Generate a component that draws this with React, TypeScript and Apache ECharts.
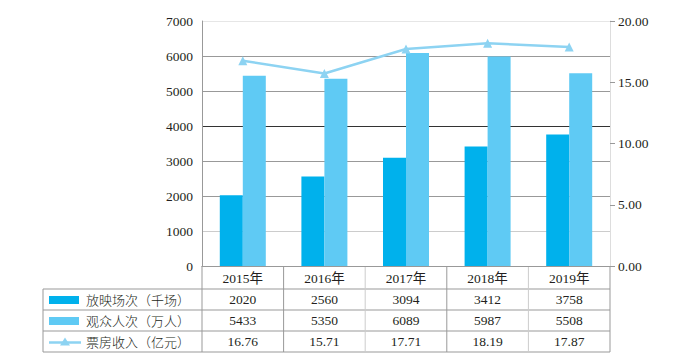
import React, { useEffect, useRef } from "react";
import * as echarts from "echarts";

const years = ["2015年", "2016年", "2017年", "2018年", "2019年"];
const screenings = [2020, 2560, 3094, 3412, 3758];
const audience = [5433, 5350, 6089, 5987, 5508];
const boxOffice = [16.76, 15.71, 17.71, 18.19, 17.87];
const seriesNames = ["放映场次（千场）", "观众人次（万人）", "票房收入（亿元）"];
const leftTicks = { min: 0, max: 7000, interval: 1000 };
const rightTicks = { min: 0, max: 20, interval: 5 };

const C_DARK = "#00B1EC";
const C_LIGHT = "#5FCAF4";
const C_LINE = "#8DD3F2";
const FONT = "Liberation Serif, Noto Sans CJK SC, serif";
const TXT = "#231f20";

export default function App() {
  const ref = useRef<HTMLDivElement>(null);
  useEffect(() => {
    const chart = echarts.init(ref.current!, null, { renderer: "svg" });
    const gridLeft = 202, gridRight = 80, gridTop = 21, gridBottom = 93;
    chart.setOption({
      animation: false,
      grid: { left: gridLeft, right: gridRight, top: gridTop, bottom: gridBottom },
      xAxis: {
        type: "category",
        data: years,
        axisLine: { show: true, lineStyle: { color: "#999", width: 1 } },
        axisTick: { show: false },
        axisLabel: { fontFamily: FONT, fontSize: 13.5, color: TXT, margin: 6 },
      },
      yAxis: [
        {
          type: "value",
          ...leftTicks,
          axisLine: { show: true, lineStyle: { color: "#999" } },
          axisTick: { show: false },
          axisLabel: { fontFamily: FONT, fontSize: 13.5, color: TXT, margin: 9, formatter: (v: number) => String(v) },
          splitLine: {
            show: true,
            lineStyle: {
              color: ["#999", "#ccc", "#999", "#999", "#333", "#999", "#999", "#e6e6e6"],
              width: 1,
            },
          },
        },
        {
          type: "value",
          ...rightTicks,
          position: "right",
          axisLine: { show: true, lineStyle: { color: "#ddd" } },
          axisTick: { show: true, length: 5, lineStyle: { color: "#999" } },
          axisLabel: {
            fontFamily: FONT,
            fontSize: 13.5,
            color: TXT,
            margin: 8,
            formatter: (v: number) => v.toFixed(2),
          },
          splitLine: { show: false },
        },
      ],
      series: [
        {
          name: seriesNames[0],
          type: "bar",
          data: screenings,
          barWidth: 23,
          barGap: "0%",
          itemStyle: { color: C_DARK },
        },
        {
          name: seriesNames[1],
          type: "bar",
          data: audience,
          barWidth: 23,
          barGap: "0%",
          itemStyle: { color: C_LIGHT },
        },
        {
          name: seriesNames[2],
          type: "line",
          yAxisIndex: 1,
          data: boxOffice,
          symbol: "triangle",
          symbolSize: 9,
          lineStyle: { color: C_LINE, width: 2.5 },
          itemStyle: { color: C_LINE },
          z: 5,
        },
      ],
    });

    const x0 = chart.convertToPixel({ xAxisIndex: 0 }, 0) as number;
    const x1 = chart.convertToPixel({ xAxisIndex: 0 }, 1) as number;
    const step = x1 - x0;
    const yZero = chart.convertToPixel({ yAxisIndex: 0 }, 0) as number;
    const plotLeft = x0 - step / 2;
    const plotRight = plotLeft + step * years.length;
    const rowH = 21;
    const headerH = 23;
    const tableLeft = 43;
    const rowTops = [yZero + headerH, yZero + headerH + rowH, yZero + headerH + 2 * rowH];
    const tableBottom = rowTops[2] + rowH;
    const lineStyle = { stroke: "#999", lineWidth: 1 };
    const els: any[] = [];
    [...rowTops, tableBottom].forEach((y) => {
      els.push({ type: "line", shape: { x1: tableLeft, y1: y, x2: plotRight, y2: y }, style: lineStyle, silent: true });
    });
    els.push({ type: "line", shape: { x1: tableLeft, y1: rowTops[0], x2: tableLeft, y2: tableBottom }, style: lineStyle });
    for (let i = 0; i <= years.length; i++) {
      const x = plotLeft + i * step;
      els.push({ type: "line", shape: { x1: x, y1: yZero, x2: x, y2: tableBottom }, style: { stroke: i % 2 === 0 && i > 0 && i < years.length ? "#ccc" : "#999", lineWidth: 1 } });
    }
    const rows = [screenings.map(String), audience.map(String), boxOffice.map((v) => v.toFixed(2))];
    rows.forEach((vals, r) => {
      const cy = rowTops[r] + rowH / 2;
      vals.forEach((t, i) => {
        els.push({
          type: "text",
          x: plotLeft + step * (i + 0.5),
          y: cy,
          style: { text: t, fontFamily: FONT, fontSize: 13.5, fill: TXT, align: "center", verticalAlign: "middle" },
        });
      });
      els.push({
        type: "text",
        x: 86,
        y: cy,
        style: { text: seriesNames[r], fontFamily: "Noto Sans CJK SC, sans-serif", fontSize: 13, fontWeight: 300, fill: TXT, align: "left", verticalAlign: "middle" },
      });
    });
    els.push({ type: "rect", shape: { x: 49, y: rowTops[0] + 7, width: 30, height: 8 }, style: { fill: C_DARK } });
    els.push({ type: "rect", shape: { x: 49, y: rowTops[1] + 7, width: 30, height: 8 }, style: { fill: C_LIGHT } });
    const ly = rowTops[2] + rowH / 2 + 1;
    els.push({ type: "line", shape: { x1: 49, y1: ly, x2: 81, y2: ly }, style: { stroke: C_LINE, lineWidth: 2.5 } });
    els.push({ type: "polygon", shape: { points: [[65, ly - 5], [60, ly + 3], [70, ly + 3]] }, style: { fill: C_LINE } });

    chart.setOption({ graphic: { elements: els } });
    return () => chart.dispose();
  }, []);
  return (
    <div
      ref={ref}
      style={{ position: "fixed", left: 0, top: 0, width: 690, height: 359, background: "#fff" }}
    />
  );
}
